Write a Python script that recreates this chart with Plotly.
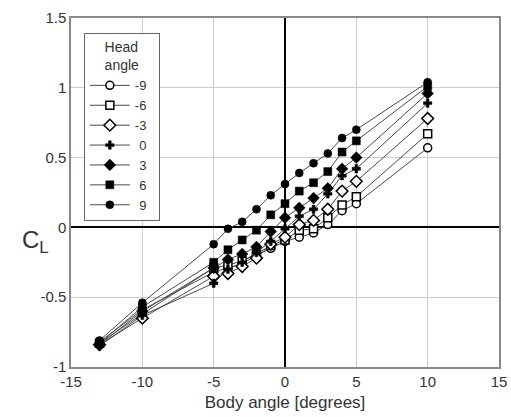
import plotly.graph_objects as go

body_angle = [-13, -10, -5, -4, -3, -2, -1, 0, 1, 2, 3, 4, 5, 10]

head_angles = ["-9", "-6", "-3", "0", "3", "6", "9"]

cl_m9 = [-0.82, -0.59, -0.32, -0.29, -0.26, -0.20, -0.15, -0.10, -0.07, -0.04, 0.02, 0.12, 0.17, 0.57]
cl_m6 = [-0.83, -0.62, -0.29, -0.27, -0.24, -0.19, -0.13, -0.09, -0.02, -0.01, 0.07, 0.16, 0.22, 0.67]
cl_m3 = [-0.84, -0.65, -0.35, -0.33, -0.28, -0.22, -0.12, -0.07, 0.02, 0.05, 0.13, 0.26, 0.33, 0.78]
cl_0 = [-0.85, -0.63, -0.40, -0.30, -0.25, -0.18, -0.10, -0.01, 0.08, 0.13, 0.24, 0.37, 0.42, 0.89]
cl_3 = [-0.84, -0.60, -0.29, -0.23, -0.19, -0.14, -0.03, 0.07, 0.14, 0.21, 0.28, 0.42, 0.50, 0.96]
cl_6 = [-0.83, -0.57, -0.25, -0.16, -0.09, -0.02, 0.09, 0.17, 0.26, 0.32, 0.40, 0.54, 0.62, 1.01]
cl_9 = [-0.81, -0.54, -0.12, -0.01, 0.04, 0.13, 0.23, 0.31, 0.39, 0.46, 0.53, 0.64, 0.70, 1.04]

x_ticks = [-15, -10, -5, 0, 5, 10, 15]
x_tick_labels = ["-15", "-10", "-5", "0", "5", "10", "15"]
y_ticks = [-1, -0.5, 0, 0.5, 1, 1.5]
y_tick_labels = ["-1", "-0.5", "0", "0.5", "1", "1.5"]

series = [cl_m9, cl_m6, cl_m3, cl_0, cl_3, cl_6, cl_9]
symbols = ["circle", "square", "diamond", "cross", "diamond", "square", "circle"]
fills = ["white", "white", "white", "black", "black", "black", "black"]
sizes = [8, 8, 9, 7, 9, 8, 8]

fig = go.Figure()
for name, vals, sym, fc, sz in zip(head_angles, series, symbols, fills, sizes):
    label = (name if name.startswith("-") else "\u2004" + name) + "\u2002"
    fig.add_trace(go.Scatter(
        x=body_angle, y=vals, mode="lines+markers", name=label,
        line=dict(color="#4a4a4a", width=1),
        marker=dict(symbol=sym, size=sz, color=fc,
                    line=dict(color="black", width=1.5 if fc == "white" else 0.5)),
    ))

fam = "Liberation Sans, Arial, sans-serif"
axis_font = dict(family=fam, size=15, color="#333333")

fig.update_xaxes(range=[-15, 15], tickvals=x_ticks, ticktext=x_tick_labels,
                 showgrid=True, gridcolor="#cccccc",
                 zeroline=True, zerolinecolor="black", zerolinewidth=2,
                 showline=True, linecolor="#888888", linewidth=1.5, mirror=True,
                 tickfont=axis_font, ticks="", automargin=False,
                 title=dict(text="Body angle [degrees]", font=dict(family=fam, size=17, color="#333333"), standoff=7))
fig.update_yaxes(range=[-1, 1.5], tickvals=y_ticks, ticktext=y_tick_labels,
                 showgrid=True, gridcolor="#cccccc",
                 zeroline=True, zerolinecolor="black", zerolinewidth=2,
                 showline=True, linecolor="#888888", linewidth=1.5, mirror=True,
                 tickfont=axis_font, ticks="", automargin=False)

fig.add_annotation(text="C<sub>L</sub>", xref="paper", yref="paper", x=-0.12, y=0.36,
                   showarrow=False, font=dict(family=fam, size=24, color="#333333"))

fig.update_layout(
    width=511, height=417,
    margin=dict(l=71, r=12, t=18, b=50),
    plot_bgcolor="white", paper_bgcolor="white",
    font=axis_font,
    legend=dict(x=0.03, y=0.957, xanchor="left", yanchor="top",
                bgcolor="white", bordercolor="#666666", borderwidth=1,
                title=dict(text="Head<br>angle", side="top center", font=dict(size=14, color="#333333")),
                font=dict(size=13, color="#333333"), tracegroupgap=0, itemwidth=40),
)

fig.write_html("out.html", config={"displayModeBar": False},
               post_script="document.body.style.margin='0';")
